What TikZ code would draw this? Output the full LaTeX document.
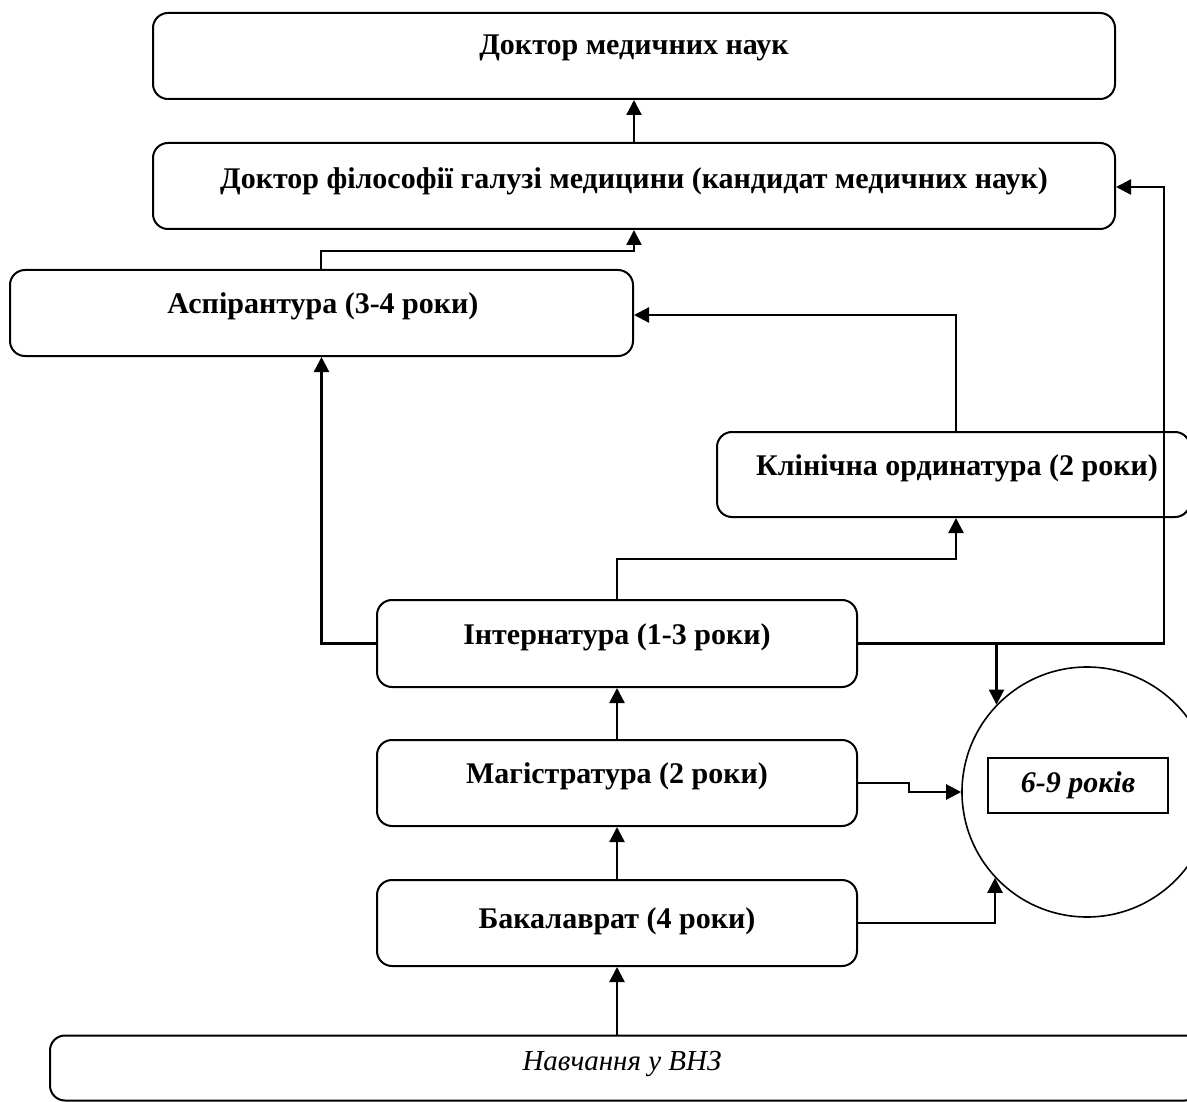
\documentclass[tikz,border=0pt]{standalone}
\usepackage{fontspec}
\setmainfont{Liberation Serif}
\usetikzlibrary{arrows.meta,calc}
\begin{document}
\begin{tikzpicture}[x=1pt,y=-1pt,
  box/.style={draw,line width=2pt,rounded corners=15pt,inner sep=0pt},
  lbl/.style={font=\fontsize{30}{34}\selectfont\bfseries,inner sep=0pt},
  arr/.style={line width=2.3pt,-{Triangle[length=15pt,width=15pt]}}]
\useasboundingbox (0,0) rectangle (1187,1102);
\clip (0,0) rectangle (1187,1102);
\fill[white] (0,0) rectangle (1187,1102);
% boxes
\node[box,minimum width=962pt,minimum height=86pt] (b1) at (634,56) {};
\node[box,minimum width=962pt,minimum height=86pt] (b2) at (634,186) {};
\node[box,minimum width=623pt,minimum height=86pt] (b3) at (321.5,313) {};
\node[box,minimum width=473pt,minimum height=85pt] (c) at (953.5,474.5) {};
\node[box,minimum width=480pt,minimum height=87pt] (i) at (617,643.5) {};
\node[box,minimum width=480pt,minimum height=86pt] (m) at (617,783) {};
\node[box,minimum width=480pt,minimum height=86pt] (k) at (617,923) {};
\node[box,minimum width=1150pt,minimum height=65pt] (v) at (625,1068) {};
\node[draw,circle,line width=1.6pt,minimum size=250pt,inner sep=0pt] (o) at (1087,792) {};
\node[draw,line width=1.6pt,minimum width=180pt,minimum height=55pt,inner sep=0pt] (r) at (1078,785.5) {};
% texts
\node[lbl] (t1) at (634,48) {Доктор медичних наук};
\node[lbl] (t2) at (634,181) {Доктор філософії галузі медицини (кандидат медичних наук)};
\node[lbl] (t3) at (323,306) {Аспірантура (3-4 роки)};
\node[lbl] (tc) at (957,468) {Клінічна ординатура (2 роки)};
\node[lbl] (ti) at (617,637) {Інтернатура (1-3 роки)};
\node[lbl] (tm) at (617,776) {Магістратура (2 роки)};
\node[lbl] (tk) at (617,921) {Бакалаврат (4 роки)};
\node[lbl,font=\fontsize{30}{34}\selectfont\bfseries\itshape] (tr) at (r.center) {6-9 років};
\node[inner sep=0pt,font=\fontsize{29}{33}\selectfont\itshape] (tv) at (622,1064) {Навчання у ВНЗ};
% connectors
\draw[arr] (b2.north) -- (b1.south);
\draw[arr] ($(b3.north west)+(312,0)$) |- ($(b2.south)+(0,21)$) -- (b2.south);
\draw[arr] ($(c.north west)+(240,0)$) |- ($(b3.east)+(0,2)$);
\draw[arr] (i.north) -- ++(0,-40) -| ($(c.south west)+(240,0)$);
\draw[arr] (i.west) -| (b3.south);
\draw[arr] (i.east) -| ($(b2.east)+(48,1)$) -- ($(b2.east)+(0,1)$);
\draw[arr] (o.136.7 |- i.east) -- (o.136.7);
\draw[arr] (m.east) -- ++(51,0) |- (o.west);
\draw[arr] (k.east) -| (o.223.3);
\draw[arr] (m.north) -- (i.south);
\draw[arr] (k.north) -- (m.south);
\draw[arr] (v.north -| k.south) -- (k.south);
\end{tikzpicture}
\end{document}
